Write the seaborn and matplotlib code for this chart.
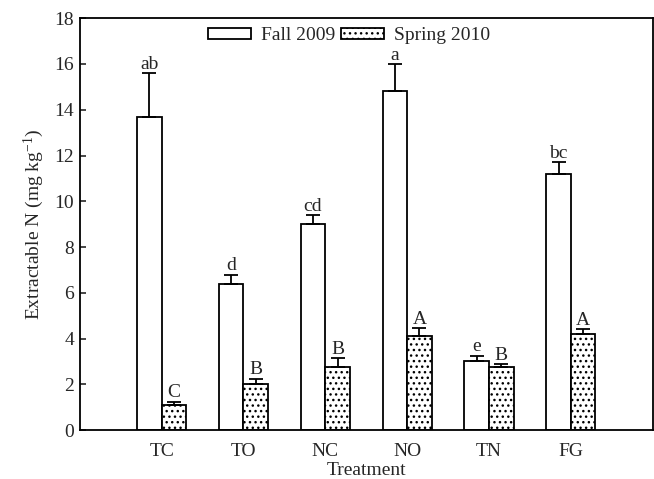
import numpy as np
import pandas as pd
import matplotlib
matplotlib.use("Agg")
import matplotlib.pyplot as plt
import seaborn as sns
from matplotlib.patches import Patch

treatments = ["TC", "TO", "NC", "NO", "TN", "FG"]
seasons = ["Fall 2009", "Spring 2010"]
fall = [13.7, 6.4, 9.0, 14.8, 3.0, 11.2]
fall_err = [1.9, 0.4, 0.4, 1.2, 0.25, 0.5]
spring = [1.1, 2.0, 2.75, 4.1, 2.75, 4.2]
spring_err = [0.15, 0.25, 0.4, 0.35, 0.12, 0.2]
fall_letters = ["ab", "d", "cd", "a", "e", "bc"]
spring_letters = ["C", "B", "B", "A", "B", "A"]

df = pd.DataFrame({
    "Treatment": treatments * 2,
    "Season": [seasons[0]] * 6 + [seasons[1]] * 6,
    "Value": fall + spring,
})

sns.set_theme(style="white")
plt.rcParams["font.family"] = ["Liberation Serif", "DejaVu Serif"]
plt.rcParams["mathtext.fontset"] = "custom"
plt.rcParams["mathtext.rm"] = "Liberation Serif"
plt.rcParams["mathtext.it"] = "Liberation Serif:italic"
plt.rcParams["hatch.linewidth"] = 1.0

FS = 14

fig = plt.figure(figsize=(6.54, 4.79), dpi=100)
ax = fig.add_axes([0.122, 0.102, 0.876, 0.860])

sns.barplot(data=df, x="Treatment", y="Value", hue="Season", order=treatments,
            hue_order=seasons, palette=["white", "white"], edgecolor="black",
            linewidth=1.3, width=0.6, errorbar=None, legend=False, ax=ax)

bars = [p for p in ax.patches]
fall_bars = bars[:6]
spring_bars = bars[6:12]
for p in spring_bars:
    p.set_hatch("...")

def annotate(bar_list, vals, errs, letters):
    xs = [p.get_x() + p.get_width() / 2 for p in bar_list]
    ax.errorbar(xs, vals, yerr=[np.zeros(len(vals)), errs], fmt="none",
                ecolor="black", elinewidth=1.3, capsize=5, capthick=1.3)
    for x, v, e, l in zip(xs, vals, errs, letters):
        ax.text(x, v + e + 0.02, l, ha="center", va="bottom", fontsize=FS)

annotate(fall_bars, fall, fall_err, fall_letters)
annotate(spring_bars, spring, spring_err, spring_letters)

ax.set_xlim(-1, 6)
ax.set_ylim(0, 18)
ax.set_yticks(range(0, 19, 2))
ax.set_xlabel("Treatment", fontsize=FS, labelpad=2)
ax.set_ylabel("Extractable N (mg kg$^{-1}$)", fontsize=FS, labelpad=6)
ax.tick_params(axis="y", left=True, direction="in", length=4.5, width=1.2, labelsize=FS, pad=4)
ax.tick_params(axis="x", bottom=False, labelsize=FS, pad=3)
for s in ax.spines.values():
    s.set_color("black")
    s.set_linewidth(1.3)

handles = [Patch(facecolor="white", edgecolor="black", linewidth=1.3),
           Patch(facecolor="white", edgecolor="black", linewidth=1.3, hatch="...")]
ax.legend(handles, seasons, loc="upper center", bbox_to_anchor=(0.47, 1.02), ncol=2,
          frameon=False, fontsize=FS, handlelength=2.2, handleheight=0.45,
          columnspacing=0.3, handletextpad=0.5)

fig.savefig("out.png", dpi=100)
